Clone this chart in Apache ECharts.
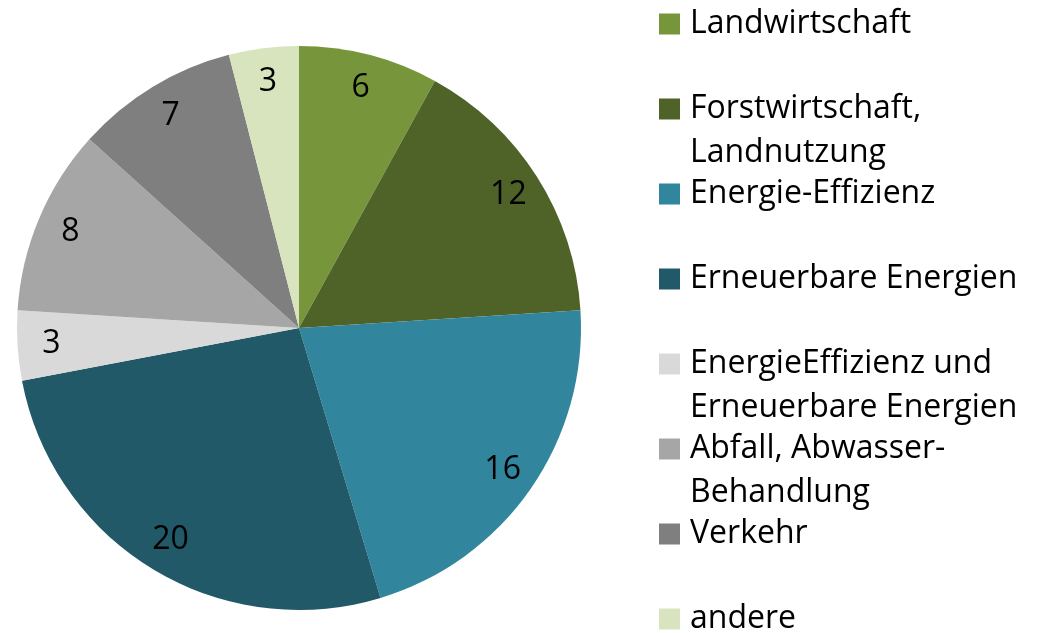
<!DOCTYPE html>
<html>
<head>
<meta charset="utf-8">
<script src="https://cdn.jsdelivr.net/npm/echarts@6/dist/echarts.min.js"></script>
<style>
  html, body { margin: 0; padding: 0; background: #fff; }
  #chart { width: 1042px; height: 633px; }
</style>
</head>
<body>
<div id="chart"></div>
<script>
// Sektoren (Reihenfolge im Uhrzeigersinn ab 12 Uhr)
const categories = [
  'Landwirtschaft',
  'Forstwirtschaft,\nLandnutzung',
  'Energie-Effizienz',
  'Erneuerbare Energien',
  'EnergieEffizienz und\nErneuerbare Energien',
  'Abfall, Abwasser-\nBehandlung',
  'Verkehr',
  'andere'
];
const values = [6, 12, 16, 20, 3, 8, 7, 3];
const colors = ['#77963B', '#4F6228', '#31859C', '#215968', '#D9D9D9', '#A6A6A6', '#7F7F7F', '#D7E4BD'];

const font = '"Open Sans", "DejaVu Sans", sans-serif';
const pieData = categories.map((name, i) => ({
  name: name,
  value: values[i],
  itemStyle: { color: colors[i] }
}));

const chart = echarts.init(document.getElementById('chart'));

const option = {
  animation: false,
  textStyle: { fontFamily: font },
  legend: {
    orient: 'vertical',
    left: 659,
    top: -42,
    height: 1000,
    padding: 0,
    itemWidth: 21,
    itemHeight: 21,
    itemGap: -47,
    icon: 'rect',
    selectedMode: false,
    data: categories,
    // leere Zeile oben, damit die erste Textzeile neben dem Symbol steht (wie in Excel)
    formatter: function (name) {
      return ' \n' + (name.indexOf('\n') < 0 ? name + '\n ' : name);
    },
    textStyle: {
      fontFamily: font,
      fontSize: 32,
      lineHeight: 44,
      color: '#000',
      padding: [0, 0, 0, 5]
    }
  },
  series: [
    {
      type: 'pie',
      center: [299, 328],
      radius: 282,
      startAngle: 90,
      clockwise: true,
      label: { show: false },
      labelLine: { show: false },
      emphasis: { disabled: true },
      data: pieData
    },
    {
      // unsichtbarer Ring nur fuer die Beschriftung nahe am Rand
      type: 'pie',
      center: [299, 328],
      radius: [208, 282],
      startAngle: 90,
      clockwise: true,
      silent: true,
      itemStyle: { color: 'rgba(0,0,0,0)' },
      label: {
        show: true,
        position: 'inside',
        formatter: '{c}',
        fontFamily: font,
        fontSize: 32,
        color: '#000'
      },
      labelLine: { show: false },
      emphasis: { disabled: true },
      data: categories.map((name, i) => ({ name: name, value: values[i] }))
    }
  ]
};

chart.setOption(option);
</script>
</body>
</html>
